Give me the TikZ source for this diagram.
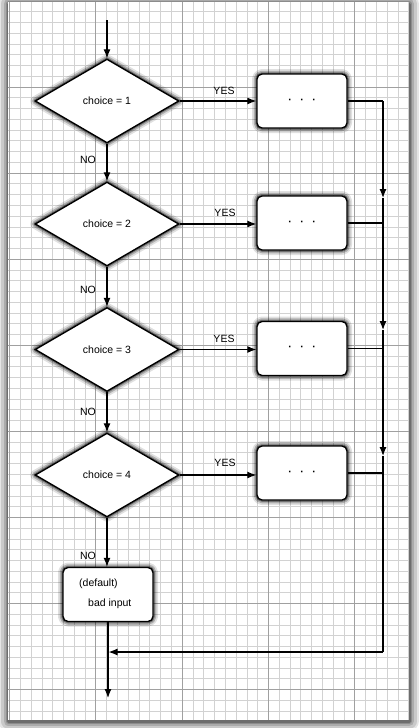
\documentclass[tikz,border=0pt]{standalone}
\usepackage{fontspec}
\setmainfont{Liberation Sans}
\usetikzlibrary{arrows.meta,shapes.geometric}
\definecolor{minorgrid}{HTML}{D2D2D2}
\definecolor{majorgrid}{HTML}{A0A0A0}
\begin{document}
\begin{tikzpicture}[x=1pt,y=-1pt,
  every node/.style={font=\fontsize{10.5}{12.5}\selectfont},
  conn/.style={line width=1.2pt},
  arr/.style={line width=1.2pt,-{Latex[length=9pt,width=7pt]}},
  softshadow/.style={
    preaction={draw=black,draw opacity=.12,line width=10pt,line join=round},
    preaction={draw=black,draw opacity=.22,line width=6.5pt,line join=round},
    preaction={draw=black,draw opacity=.35,line width=3.5pt,line join=round}},
  dia/.style={diamond,draw,line width=1.4pt,fill=white,minimum width=144pt,minimum height=84pt,inner sep=0pt,softshadow},
  stepbox/.style={rectangle,draw,line width=1.4pt,fill=white,rounded corners=5pt,minimum width=90pt,minimum height=54pt,inner sep=0pt,softshadow},
  lbl/.style={inner sep=0pt}
]
\useasboundingbox (0,0) rectangle (419,728);
\fill[white] (0,0) rectangle (419,728);
% paper shadow
\foreach \w/\o in {20/.10,15/.12,10/.15,6/.18,3/.22} {
  \draw[black,draw opacity=\o,line width=\w pt,line join=round] (8.5,4) rectangle (409,721);
}
\fill[white] (8,2) rectangle (409,720);
% grid
\begin{scope}
\clip (8,2) rectangle (409,720);
\foreach \i in {0,...,38} {
  \draw[minorgrid,line width=0.9pt] ({9.6+10.79*\i},2) -- ({9.6+10.79*\i},720);
}
\foreach \j in {0,...,67} {
  \draw[minorgrid,line width=0.9pt] (8,{1+10.76*\j}) -- (409,{1+10.76*\j});
}
\foreach \i in {0,...,4} {
  \draw[majorgrid,line width=0.9pt] ({9.6+86.3*\i},2) -- ({9.6+86.3*\i},720);
}
\foreach \j in {0,...,8} {
  \draw[majorgrid,line width=0.9pt] (8,{1+86.1*\j}) -- (409,{1+86.1*\j});
}
\end{scope}

% nodes
\node[dia] (d1) at (107,101) {choice = 1};
\node[dia] (d2) at (107,224) {choice = 2};
\node[dia] (d3) at (107,349.5) {choice = 3};
\node[dia] (d4) at (107,475) {choice = 4};
\node[stepbox] (b1) at (302,101) {\textbf{·}\hspace{8.5pt}\textbf{·}\hspace{8.5pt}\textbf{·}};
\node[stepbox] (b2) at (302,223) {\textbf{·}\hspace{8.5pt}\textbf{·}\hspace{8.5pt}\textbf{·}};
\node[stepbox] (b3) at (302,348.5) {\textbf{·}\hspace{8.5pt}\textbf{·}\hspace{8.5pt}\textbf{·}};
\node[stepbox] (b4) at (302,473) {\textbf{·}\hspace{8.5pt}\textbf{·}\hspace{8.5pt}\textbf{·}};
\node[stepbox] (def) at (108,594.5) {};
\node[lbl,anchor=west] (t1) at (79,584) {(default)};
\node[lbl,anchor=west] (t2) at (88,604) {bad input};

% coordinates
\coordinate (start) at (107,20);
\coordinate (rx) at (383,0);
\coordinate (r1) at (b1.east -| rx);
\coordinate (r2) at (b2.east -| rx);
\coordinate (r3) at (b3.east -| rx);
\coordinate (r4) at (b4.east -| rx);
\coordinate (a1) at (383,198);
\coordinate (a2) at (383,330);
\coordinate (a3) at (383,456);
\coordinate (r5) at (383,652);
\coordinate (join) at (108.5,652);
\coordinate (finish) at (108,698);

% connectors
\draw[arr] (start) -- (d1.north);
\draw[arr] (d1.south) -- (d2.north);
\draw[arr] (d2.south) -- (d3.north);
\draw[arr] (d3.south) -- (d4.north);
\draw[arr] (d4.south) -- (def.north -| d4.south);
\draw[arr] (def.south) -- (finish);
\draw[arr] (d1.east) -- (b1.west |- d1.east);
\draw[arr] (d2.east) -- (b2.west |- d2.east);
\draw[arr] (d3.east) -- (b3.west |- d3.east);
\draw[arr] (d4.east) -- (b4.west |- d4.east);
\draw[conn] (b1.east) -- (r1);
\draw[conn] (b2.east) -- (r2);
\draw[conn] (b3.east) -- (r3);
\draw[conn] (b4.east) -- (r4);
\draw[arr] (r1) -- (a1);
\draw[arr] (a1) -- (a2);
\draw[arr] (a2) -- (a3);
\draw[conn] (a3) -- (r5);
\draw[arr] (r5) -- (join);

% labels
\node[lbl] (no1) at (88,160) {NO};
\node[lbl] (no2) at (88,290) {NO};
\node[lbl] (no3) at (88,412) {NO};
\node[lbl] (no4) at (88,556) {NO};
\node[lbl] (yes1) at (224,91) {YES};
\node[lbl] (yes2) at (225,213) {YES};
\node[lbl] (yes3) at (224,339) {YES};
\node[lbl] (yes4) at (225,463) {YES};
\end{tikzpicture}
\end{document}
